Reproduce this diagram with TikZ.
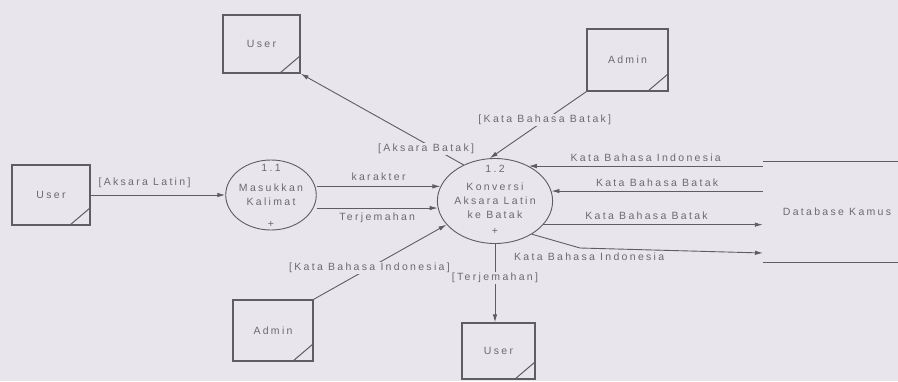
\documentclass[tikz,border=0pt]{standalone}
\usepackage{fontspec}
\setmainfont{Liberation Sans}
\newfontfamily\dfdfont[LetterSpace=22]{Liberation Sans}
\usepackage{xcolor}
\usetikzlibrary{arrows.meta,positioning,shapes.geometric,calc}
\definecolor{DfdBack}{HTML}{E8E6EC}
\definecolor{DfdLine}{HTML}{5E5D63}
\definecolor{DfdText}{HTML}{6C6A70}
\tikzset{
  lbl/.style={font={\dfdfont\fontsize{10.5pt}{14pt}\selectfont},text=DfdText,inner sep=1pt,align=center},
  onflow/.style={lbl,fill=DfdBack},
  entity/.style={lbl,draw=DfdLine,line width=1.3pt,minimum width=78pt,minimum height=60pt,
    path picture={\draw[DfdLine,line width=1pt]
      ([yshift=17pt]path picture bounding box.south east)--([xshift=-20pt]path picture bounding box.south east);}},
  process/.style={lbl,ellipse,draw=DfdLine,line width=0.9pt,inner sep=0pt},
  storeline/.style={draw=DfdLine,line width=0.9pt},
  flow/.style={-{Latex[length=8pt,width=4.5pt]},draw=DfdLine,line width=0.9pt}
}
\begin{document}
\begin{tikzpicture}[x=1pt,y=-1pt]
  \fill[DfdBack] (0,0) rectangle (898,381);
  \useasboundingbox (0,0) rectangle (898,381);
  \node[entity] (userL) at (51,195) {User};
  \node[entity,minimum width=77pt,minimum height=58pt] (userT) at (261.5,44) {User};
  \node[entity,minimum width=81pt,minimum height=62pt] (adminT) at (627.5,60) {Admin};
  \node[entity,minimum width=80pt,minimum height=61pt] (adminB) at (273,330.5) {Admin};
  \node[entity,minimum width=73pt,minimum height=56pt] (userB) at (498.5,351) {User};
  \node[process,minimum width=78pt,minimum height=70pt] (p11) at (271,195) {Masukkan\\Kalimat};
  \node[lbl,below=4pt of p11.north] (p11num) {1.1};
  \node[lbl,above=2pt of p11.south] (p11plus) {+};
  \node[process,minimum width=105pt,minimum height=85pt] (p12) at (495,201) {Konversi\\Aksara Latin\\ke Batak};
  \node[lbl,below=6.4pt of p12.north] (p12num) {1.2};
  \node[lbl,above=8pt of p12.south] (p12plus) {+};
  \node[lbl,minimum width=148pt,minimum height=100pt] (db) at (837,212) {Database Kamus};
  \draw[storeline] (db.north west)--(db.north east) (db.south west)--(db.south east);
  \coordinate (bend) at (580,248);
  \coordinate (dbin) at (763,253);
  \draw[flow] (userL)--node[lbl,above=6pt,pos=0.4] (f1) {[Aksara Latin]} (p11);
  \draw[flow] (p11.east |- p12.165)--node[lbl,above=4pt] (f2) {karakter} (p12.165);
  \draw[flow] (p11.east |- p12.187)--node[lbl,below=3pt] (f3) {Terjemahan} (p12.187);
  \draw[flow] (p12.131)--node[onflow,pos=0.23,yshift=-5pt] (f4) {[Aksara Batak]} (userT.south east);
  \draw[flow] (adminT.south west)--node[onflow,pos=0.43] (f5) {[Kata Bahasa Batak]} (p12.97);
  \draw[flow] (adminB.north east)--node[onflow,pos=0.42] (f6) {[Kata Bahasa Indonesia]} (p12.206);
  \draw[flow] (p12.south)--node[onflow,pos=0.43] (f7) {[Terjemahan]} (p12.south |- userB.north);
  \draw[flow] (p12.46 -| db.west)--node[lbl,above=3pt] (f8) {Kata Bahasa Indonesia} (p12.46);
  \draw[flow] (p12.10 -| db.west)--node[lbl,above=3pt] (f9) {Kata Bahasa Batak} (p12.10);
  \draw[flow] (p12.-26)--node[lbl,above=4pt,pos=0.47] (f10) {Kata Bahasa Batak} (p12.-26 -| db.west);
  \draw[flow] (p12.-42)--(bend)--node[lbl,below=3pt,pos=0.05] (f11) {Kata Bahasa Indonesia} (dbin);
\end{tikzpicture}
\end{document}
